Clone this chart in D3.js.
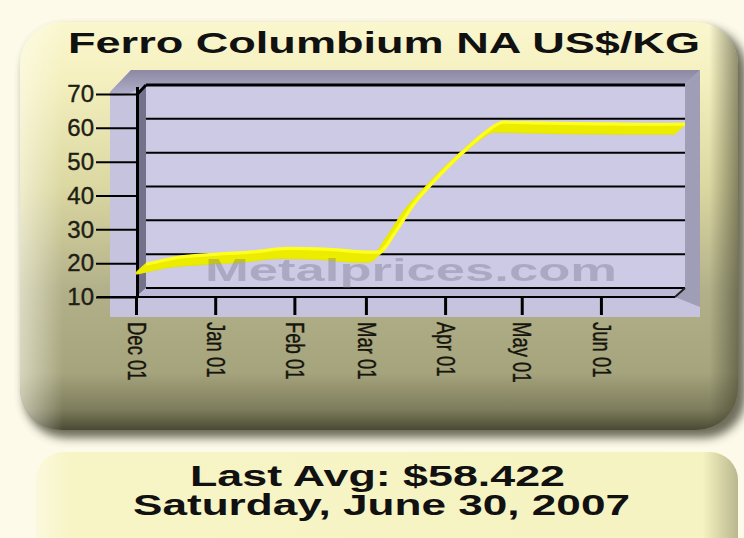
<!DOCTYPE html>
<html>
<head>
<meta charset="utf-8">
<script src="https://cdn.jsdelivr.net/npm/d3@7"></script>
<style>
  html, body { margin: 0; padding: 0; background: #fdfaea; }
  svg { display: block; }
</style>
</head>
<body>
<svg id="chart" width="744" height="538"></svg>
<script>
// ---- data ----
const titleText = "Ferro Columbium NA US$/KG";
const priceDates = ["2006-12-01","2006-12-08","2006-12-15","2006-12-29","2007-01-12","2007-01-26",
  "2007-02-09","2007-02-23","2007-03-02","2007-03-09","2007-03-16","2007-03-23","2007-03-30",
  "2007-04-06","2007-04-13","2007-04-20","2007-05-04","2007-05-18","2007-06-01","2007-06-15",
  "2007-06-22","2007-06-30"];
const priceValues = [17.0, 18.2, 19.2, 20.0, 20.7, 21.7,
  21.5, 20.7, 20.6, 27.0, 35.0, 41.0, 46.5,
  51.5, 56.0, 59.0, 58.8, 58.6, 58.5, 58.4,
  58.4, 58.422];
const yTickValues = [10, 20, 30, 40, 50, 60, 70];
const monthTickDates = ["2006-12-01","2007-01-01","2007-02-01","2007-03-01","2007-04-01","2007-05-01","2007-06-01"];
const monthTickLabels = ["Dec 01","Jan 01","Feb 01","Mar 01","Apr 01","May 01","Jun 01"];
const watermarkText = "Metalprices.com";
const lastAvgText = "Last Avg: $58.422";
const lastDateText = "Saturday, June 30, 2007";

// ---- layout ----
const svg = d3.select("#chart");
const wall = { x0: 146, x1: 685, y0: 85, y1: 288 };   // back wall of the 3D plot
const depth = { dx: -10, dy: 9 };                      // offset from back plane to front plane
const parse = d3.timeParse("%Y-%m-%d");
const series = priceDates.map((d, i) => ({ date: parse(d), value: priceValues[i] }));

const x = d3.scaleTime()
  .domain([parse("2006-12-01"), parse("2007-06-30")])
  .range([wall.x0, wall.x1]);
const y = d3.scaleLinear().domain([10, 70]).range([wall.y1, wall.y0]);
const xFront = x.copy().range([wall.x0 + depth.dx, wall.x1 + depth.dx]);
const yFront = y.copy().range([wall.y1 + depth.dy, wall.y0 + depth.dy]);

const defs = svg.append("defs");
const panelGrad = defs.append("linearGradient").attr("id", "panelGrad")
  .attr("x1", 0).attr("y1", 0).attr("x2", 0).attr("y2", 1);
[["0%", "#faf7cf"], ["14%", "#f4f0bf"], ["40%", "#dcd8a2"], ["66%", "#b2b089"],
 ["86%", "#a6a47d"], ["95%", "#7d7c5c"], ["100%", "#4a4a34"]]
  .forEach(([o, c]) => panelGrad.append("stop").attr("offset", o).attr("stop-color", c));
const edgeGrad = defs.append("linearGradient").attr("id", "edgeGrad")
  .attr("x1", 0).attr("y1", 0).attr("x2", 1).attr("y2", 0);
[["0%", "rgba(255,255,240,0.55)"], ["6%", "rgba(255,255,240,0)"],
 ["96%", "rgba(60,60,40,0)"], ["100%", "rgba(60,60,40,0.55)"]]
  .forEach(([o, c]) => edgeGrad.append("stop").attr("offset", o).attr("stop-color", c));
const lowGrad = defs.append("linearGradient").attr("id", "lowGrad")
  .attr("x1", 0).attr("y1", 0).attr("x2", 1).attr("y2", 0);
[["0%", "#fbf9dc"], ["5%", "#f7f4c6"], ["95%", "#f6f3c2"], ["100%", "#b9b78e"]]
  .forEach(([o, c]) => lowGrad.append("stop").attr("offset", o).attr("stop-color", c));
const topBand = defs.append("linearGradient").attr("id", "topBand")
  .attr("x1", 0).attr("y1", 0).attr("x2", 0).attr("y2", 1);
[["0%", "#8c89a3"], ["100%", "#b3b0cb"]]
  .forEach(([o, c]) => topBand.append("stop").attr("offset", o).attr("stop-color", c));
defs.append("filter").attr("id", "soft").attr("x", "-10%").attr("y", "-10%")
  .attr("width", "120%").attr("height", "130%")
  .append("feGaussianBlur").attr("stdDeviation", 5);

// ---- panels ----
svg.append("rect").attr("x", 24).attr("y", 28).attr("width", 722).attr("height", 410)
  .attr("rx", 42).attr("fill", "#3e3d2a").attr("opacity", 0.75).attr("filter", "url(#soft)");
svg.append("rect").attr("x", 20).attr("y", 22).attr("width", 718).attr("height", 408)
  .attr("rx", 42).attr("fill", "url(#panelGrad)");
svg.append("rect").attr("x", 20).attr("y", 22).attr("width", 718).attr("height", 408)
  .attr("rx", 42).attr("fill", "url(#edgeGrad)");

svg.append("rect").attr("x", 36).attr("y", 452).attr("width", 702).attr("height", 120)
  .attr("rx", 28).attr("fill", "url(#lowGrad)");

// ---- title ----
svg.append("text").attr("x", 68).attr("y", 53)
  .attr("font-family", "Liberation Sans, Arial, sans-serif").attr("font-weight", "bold")
  .attr("font-size", 30).attr("fill", "#111")
  .attr("textLength", 632).attr("lengthAdjust", "spacingAndGlyphs")
  .text(titleText);

// ---- 3D plot frame ----
const frame = svg.append("g");
frame.append("polygon")
  .attr("points", [[131, 70], [700, 70], [700, 317], [110, 317], [110, 92]].join(" "))
  .attr("fill", "#c6c3df");
frame.append("polygon")
  .attr("points", [[131, 70], [700, 70], [685, wall.y0], [wall.x0, wall.y0], [124, 96], [110, 96], [110, 92]].join(" "))
  .attr("fill", "url(#topBand)");
frame.append("polygon")
  .attr("points", [[wall.x1, wall.y0], [700, 70], [700, 307], [wall.x1 + depth.dx, wall.y1 + depth.dy], [wall.x1, wall.y1]].join(" "))
  .attr("fill", "#a09db7");
frame.append("rect").attr("x", wall.x0).attr("y", wall.y0)
  .attr("width", wall.x1 - wall.x0).attr("height", wall.y1 - wall.y0)
  .attr("fill", "#cdcae6");
// left side wall
frame.append("polygon")
  .attr("points", [[wall.x0 + depth.dx, wall.y0 + depth.dy], [wall.x0, wall.y0], [wall.x0, wall.y1], [wall.x0 + depth.dx, wall.y1 + depth.dy]].join(" "))
  .attr("fill", "#74728a");
// floor
frame.append("polygon")
  .attr("points", [[wall.x0, wall.y1], [wall.x1, wall.y1], [wall.x1 + depth.dx, wall.y1 + depth.dy], [wall.x0 + depth.dx, wall.y1 + depth.dy]].join(" "))
  .attr("fill", "#bcb9d6");

// grid lines on the back wall
frame.selectAll("line.grid").data(yTickValues).join("line")
  .attr("class", "grid")
  .attr("x1", wall.x0).attr("x2", wall.x1)
  .attr("y1", d => y(d)).attr("y2", d => y(d))
  .attr("stroke", "#000").attr("stroke-width", d => d === 70 ? 3 : 2);
frame.append("line")
  .attr("x1", wall.x1).attr("y1", wall.y1)
  .attr("x2", wall.x1 + depth.dx).attr("y2", wall.y1 + depth.dy)
  .attr("stroke", "#222").attr("stroke-width", 2);

// ---- axes ----
const yAxis = d3.axisLeft(yFront).tickValues(yTickValues).tickSize(42).tickPadding(2)
  .tickFormat(d3.format("d"));
const yAxisG = svg.append("g").attr("transform", `translate(${wall.x0 + depth.dx + 2},0)`).call(yAxis);
yAxisG.select(".domain").remove();
yAxisG.selectAll(".tick line").attr("stroke", "#000").attr("stroke-width", 2);
yAxisG.selectAll(".tick text")
  .attr("font-family", "Liberation Sans, Arial, sans-serif").attr("font-size", 24)
  .attr("fill", "#1e1e14").attr("stroke", "#1e1e14").attr("stroke-width", 0.4);
svg.append("line")
  .attr("x1", wall.x0 + depth.dx + 1.5).attr("x2", wall.x0 + depth.dx + 1.5)
  .attr("y1", wall.y0 + 2).attr("y2", wall.y1 + depth.dy)
  .attr("stroke", "#000").attr("stroke-width", 3);
svg.append("line")
  .attr("x1", wall.x0 + depth.dx + 1.5).attr("y1", wall.y0 + depth.dy)
  .attr("x2", wall.x0).attr("y2", wall.y0)
  .attr("stroke", "#000").attr("stroke-width", 3);

const xAxis = d3.axisBottom(xFront)
  .tickValues(monthTickDates.map(parse)).tickSize(18)
  .tickFormat((d, i) => monthTickLabels[i]);
const xAxisG = svg.append("g").attr("transform", `translate(0,${wall.y1 + depth.dy})`).call(xAxis);
xAxisG.select(".domain").remove();
xAxisG.selectAll(".tick line").attr("stroke", "#000").attr("stroke-width", 3);
xAxisG.selectAll(".tick text")
  .attr("font-family", "Liberation Sans, Arial, sans-serif").attr("font-size", 25)
  .attr("fill", "#15150c").attr("stroke", "#15150c").attr("stroke-width", 0.4)
  .attr("transform", "rotate(90)")
  .attr("x", 25).attr("y", 0).attr("dy", "0.35em")
  .style("text-anchor", "start")
  .each(function () {
    const n = this.getComputedTextLength();
    d3.select(this).attr("textLength", n * 0.74).attr("lengthAdjust", "spacingAndGlyphs");
  });
svg.append("line")
  .attr("x1", 97).attr("x2", wall.x1 + depth.dx)
  .attr("y1", wall.y1 + depth.dy).attr("y2", wall.y1 + depth.dy)
  .attr("stroke", "#000").attr("stroke-width", 2);

// ---- price ribbon (line with depth) ----
const line = d3.line().x(d => x(d.date)).y(d => y(d.value)).curve(d3.curveMonotoneX);
const ribbon = svg.append("g");
const steps = d3.range(10, -1, -1).map(k => k / 10);
ribbon.selectAll("path").data(steps).join("path")
  .attr("d", line(series))
  .attr("transform", t => `translate(${depth.dx * t},${depth.dy * t})`)
  .attr("fill", "none")
  .attr("stroke", t => t === 0 ? "#ffff1e" : (t === 1 ? "#e4e400" : "#ecec00"))
  .attr("stroke-width", 3.2)
  .attr("stroke-linejoin", "round");

// ---- watermark ----
svg.append("text").attr("x", 205).attr("y", 281)
  .attr("font-family", "Liberation Sans, Arial, sans-serif").attr("font-weight", "bold")
  .attr("font-size", 32).attr("fill", "#66657a").attr("opacity", 0.32)
  .attr("textLength", 412).attr("lengthAdjust", "spacingAndGlyphs")
  .text(watermarkText);

// ---- last value box ----
svg.append("text").attr("x", 190).attr("y", 486)
  .attr("font-family", "Liberation Sans, Arial, sans-serif").attr("font-weight", "bold")
  .attr("font-size", 29).attr("fill", "#111")
  .attr("textLength", 375).attr("lengthAdjust", "spacingAndGlyphs")
  .text(lastAvgText);
svg.append("text").attr("x", 133).attr("y", 515)
  .attr("font-family", "Liberation Sans, Arial, sans-serif").attr("font-weight", "bold")
  .attr("font-size", 29).attr("fill", "#111")
  .attr("textLength", 497).attr("lengthAdjust", "spacingAndGlyphs")
  .text(lastDateText);
</script>
</body>
</html>
